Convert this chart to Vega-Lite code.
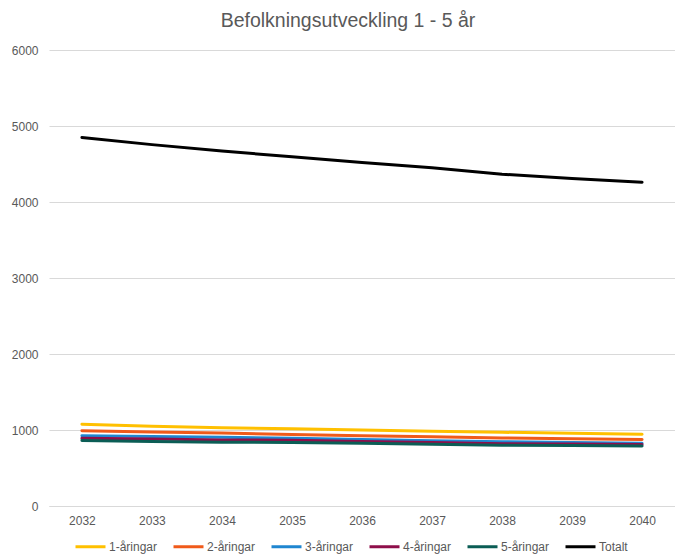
{
  "$schema": "https://vega.github.io/schema/vega-lite/v6.json",
  "width": 626,
  "height": 456,
  "autosize": {"type": "none"},
  "padding": {"left": 49, "top": 50, "right": 0, "bottom": 48},
  "background": "white",
  "title": {
    "text": "Befolkningsutveckling 1 - 5 år",
    "font": "Liberation Sans",
    "fontSize": 19.5,
    "fontWeight": "normal",
    "color": "#595959",
    "anchor": "middle",
    "dx": -14,
    "offset": 13
  },
  "data": {
    "values": [
      {"year": "2032", "serie": "1-åringar", "value": 1076},
      {"year": "2033", "serie": "1-åringar", "value": 1050},
      {"year": "2034", "serie": "1-åringar", "value": 1030},
      {"year": "2035", "serie": "1-åringar", "value": 1018},
      {"year": "2036", "serie": "1-åringar", "value": 1000},
      {"year": "2037", "serie": "1-åringar", "value": 985},
      {"year": "2038", "serie": "1-åringar", "value": 970},
      {"year": "2039", "serie": "1-åringar", "value": 958},
      {"year": "2040", "serie": "1-åringar", "value": 943},
      {"year": "2032", "serie": "2-åringar", "value": 990},
      {"year": "2033", "serie": "2-åringar", "value": 975},
      {"year": "2034", "serie": "2-åringar", "value": 960},
      {"year": "2035", "serie": "2-åringar", "value": 940},
      {"year": "2036", "serie": "2-åringar", "value": 925},
      {"year": "2037", "serie": "2-åringar", "value": 910},
      {"year": "2038", "serie": "2-åringar", "value": 895},
      {"year": "2039", "serie": "2-åringar", "value": 885},
      {"year": "2040", "serie": "2-åringar", "value": 876},
      {"year": "2032", "serie": "3-åringar", "value": 925},
      {"year": "2033", "serie": "3-åringar", "value": 915},
      {"year": "2034", "serie": "3-åringar", "value": 905},
      {"year": "2035", "serie": "3-åringar", "value": 893},
      {"year": "2036", "serie": "3-åringar", "value": 875},
      {"year": "2037", "serie": "3-åringar", "value": 860},
      {"year": "2038", "serie": "3-åringar", "value": 845},
      {"year": "2039", "serie": "3-åringar", "value": 835},
      {"year": "2040", "serie": "3-åringar", "value": 827},
      {"year": "2032", "serie": "4-åringar", "value": 890},
      {"year": "2033", "serie": "4-åringar", "value": 880},
      {"year": "2034", "serie": "4-åringar", "value": 870},
      {"year": "2035", "serie": "4-åringar", "value": 865},
      {"year": "2036", "serie": "4-åringar", "value": 850},
      {"year": "2037", "serie": "4-åringar", "value": 835},
      {"year": "2038", "serie": "4-åringar", "value": 820},
      {"year": "2039", "serie": "4-åringar", "value": 815},
      {"year": "2040", "serie": "4-åringar", "value": 810},
      {"year": "2032", "serie": "5-åringar", "value": 863},
      {"year": "2033", "serie": "5-åringar", "value": 850},
      {"year": "2034", "serie": "5-åringar", "value": 840},
      {"year": "2035", "serie": "5-åringar", "value": 837},
      {"year": "2036", "serie": "5-åringar", "value": 825},
      {"year": "2037", "serie": "5-åringar", "value": 812},
      {"year": "2038", "serie": "5-åringar", "value": 800},
      {"year": "2039", "serie": "5-åringar", "value": 795},
      {"year": "2040", "serie": "5-åringar", "value": 788},
      {"year": "2032", "serie": "Totalt", "value": 4850},
      {"year": "2033", "serie": "Totalt", "value": 4755},
      {"year": "2034", "serie": "Totalt", "value": 4670},
      {"year": "2035", "serie": "Totalt", "value": 4595},
      {"year": "2036", "serie": "Totalt", "value": 4520},
      {"year": "2037", "serie": "Totalt", "value": 4450},
      {"year": "2038", "serie": "Totalt", "value": 4365},
      {"year": "2039", "serie": "Totalt", "value": 4310},
      {"year": "2040", "serie": "Totalt", "value": 4260}
    ]
  },
  "mark": {"type": "line", "strokeWidth": 3, "strokeCap": "round"},
  "encoding": {
    "x": {
      "field": "year",
      "type": "ordinal",
      "scale": {"type": "point", "padding": 0.47},
      "axis": {
        "title": null,
        "labelAngle": 0,
        "labelFont": "Liberation Sans",
        "labelFontSize": 12,
        "labelColor": "#595959",
        "labelPadding": 9,
        "ticks": false,
        "domainColor": "#d9d9d9",
        "domainWidth": 1,
        "grid": false
      }
    },
    "y": {
      "field": "value",
      "type": "quantitative",
      "scale": {"domain": [0, 6000], "nice": false},
      "axis": {
        "title": null,
        "values": [0, 1000, 2000, 3000, 4000, 5000, 6000],
        "format": "d",
        "labelFont": "Liberation Sans",
        "labelFontSize": 12,
        "labelColor": "#595959",
        "labelPadding": 11,
        "ticks": false,
        "domain": false,
        "gridColor": "#d9d9d9",
        "gridWidth": 1
      }
    },
    "color": {
      "field": "serie",
      "type": "nominal",
      "scale": {
        "domain": ["1-åringar", "2-åringar", "3-åringar", "4-åringar", "5-åringar", "Totalt"],
        "range": ["#FFC000", "#F05A1A", "#1F86D0", "#8E0E4A", "#0B5D55", "#000000"]
      },
      "legend": {
        "title": null,
        "orient": "none",
        "direction": "horizontal",
        "legendX": 25,
        "legendY": 480,
        "symbolType": "stroke",
        "symbolSize": 900,
        "symbolStrokeWidth": 3,
        "labelFont": "Liberation Sans",
        "labelFontSize": 12,
        "labelColor": "#595959",
        "labelOffset": 2,
        "columnPadding": 9
      }
    }
  },
  "config": {"view": {"stroke": null}}
}
